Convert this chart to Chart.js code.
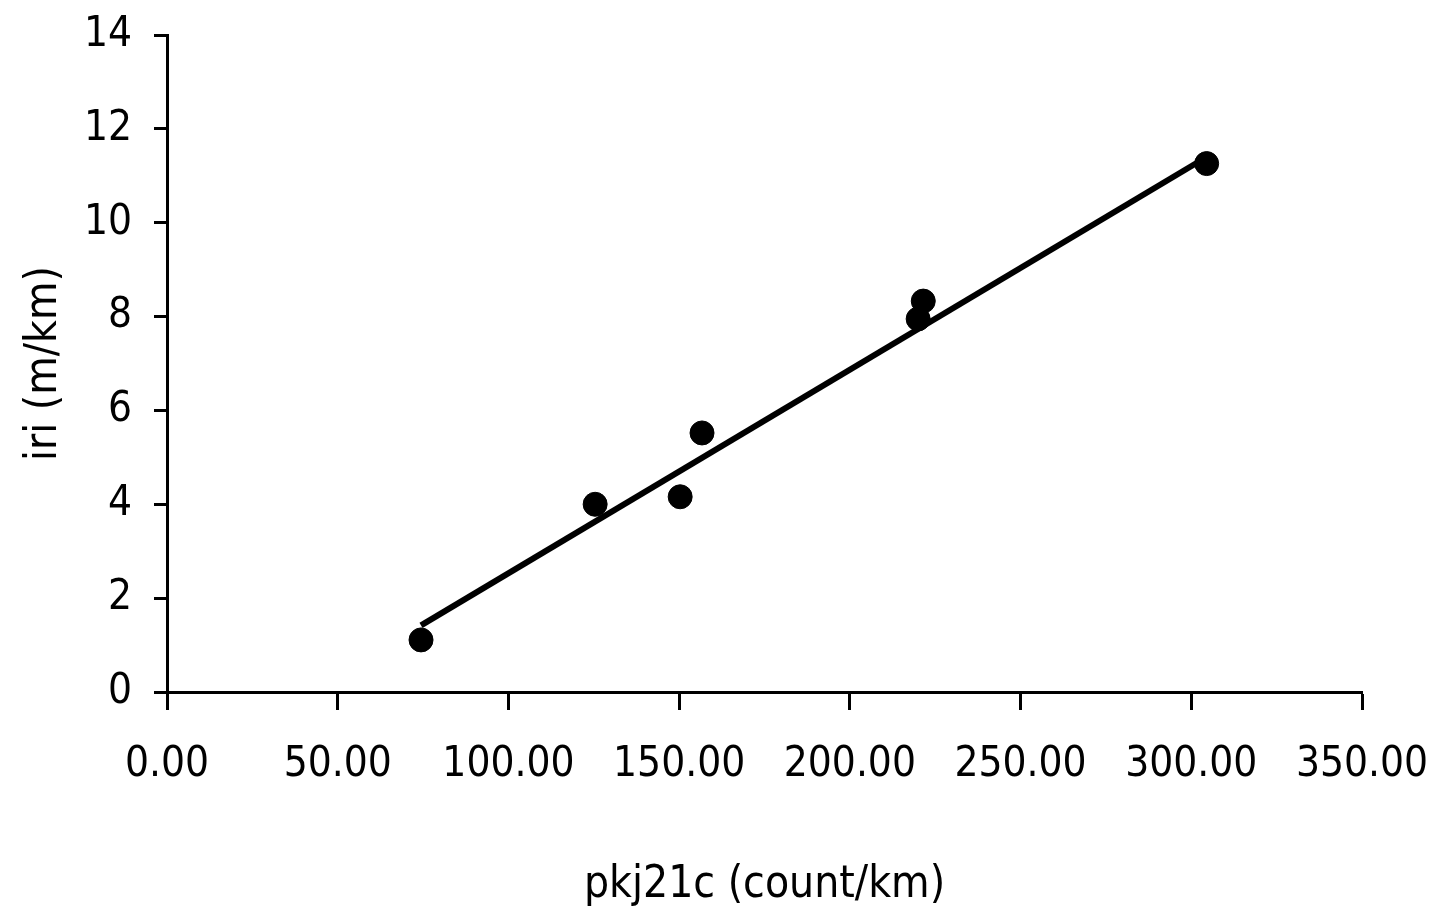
<!DOCTYPE html>
<html>
<head>
<meta charset="utf-8">
<script src="https://cdn.jsdelivr.net/npm/chart.js@4.4.0/dist/chart.umd.min.js"></script>
<style>
  html, body { margin: 0; padding: 0; background: #fff; }
  #wrap { width: 1437px; height: 912px; }
</style>
</head>
<body>
<div id="wrap"><canvas id="iriChart" width="1437" height="912"></canvas></div>
<script>
// measured points (pkj21c vs iri)
const pkj21c = [74.4, 125.4, 150.3, 156.7, 220.0, 221.5, 304.5];
const iri = [1.11, 4.00, 4.16, 5.52, 7.95, 8.33, 11.26];

// trend line end points
const trendX = [74.4, 304.5];
const trendY = [1.42, 11.4];

const xTitle = 'pkj21c (count/km)';
const yTitle = 'iri (m/km)';

const fontFamily = '"DejaVu Sans Condensed", "Liberation Sans Narrow", "Liberation Sans", sans-serif';

const ctx = document.getElementById('iriChart').getContext('2d');

const iriChart = new Chart(ctx, {
    type: 'scatter',
    data: {
        datasets: [{
            label: 'iri',
            data: pkj21c.map((x, i) => ({ x: x, y: iri[i] })),
            backgroundColor: '#000',
            borderColor: '#000',
            pointRadius: 12,
            pointHoverRadius: 12,
            order: 1
        }, {
            label: 'trend',
            type: 'line',
            data: trendX.map((x, i) => ({ x: x, y: trendY[i] })),
            borderColor: '#000',
            borderWidth: 6,
            pointRadius: 0,
            fill: false,
            order: 2
        }]
    },
    options: {
        responsive: false,
        animation: false,
        layout: {
            padding: { top: 35, right: 75, left: 0, bottom: 0 }
        },
        plugins: {
            legend: { display: false },
            tooltip: { enabled: false }
        },
        scales: {
            x: {
                type: 'linear',
                min: 0,
                max: 350,
                ticks: {
                    stepSize: 50,
                    color: '#000',
                    padding: 30,
                    font: { family: fontFamily, size: 42 },
                    maxRotation: 0,
                    callback: v => v.toFixed(2)
                },
                grid: {
                    drawOnChartArea: false,
                    drawTicks: true,
                    tickLength: 18,
                    tickColor: '#000',
                    tickWidth: 3
                },
                border: { color: '#000', width: 3 },
                title: {
                    display: true,
                    text: xTitle,
                    color: '#000',
                    font: { family: fontFamily, size: 44 },
                    padding: { top: 40, bottom: 0 }
                },
                afterFit: s => {
                    s.height = 220;
                    s.paddingLeft = 0;
                    s.paddingRight = 0;
                }
            },
            y: {
                min: 0,
                max: 14,
                ticks: {
                    stepSize: 2,
                    color: '#000',
                    padding: 22,
                    font: { family: fontFamily, size: 42 }
                },
                grid: {
                    drawOnChartArea: false,
                    drawTicks: true,
                    tickLength: 13,
                    tickColor: '#000',
                    tickWidth: 3
                },
                border: { color: '#000', width: 3 },
                title: {
                    display: true,
                    text: yTitle,
                    color: '#000',
                    font: { family: fontFamily, size: 44 },
                    padding: { top: 18, bottom: 0 }
                },
                afterFit: s => {
                    s.width = 167;
                    s.paddingTop = 0;
                    s.paddingBottom = 0;
                }
            }
        }
    }
});
</script>
</body>
</html>
